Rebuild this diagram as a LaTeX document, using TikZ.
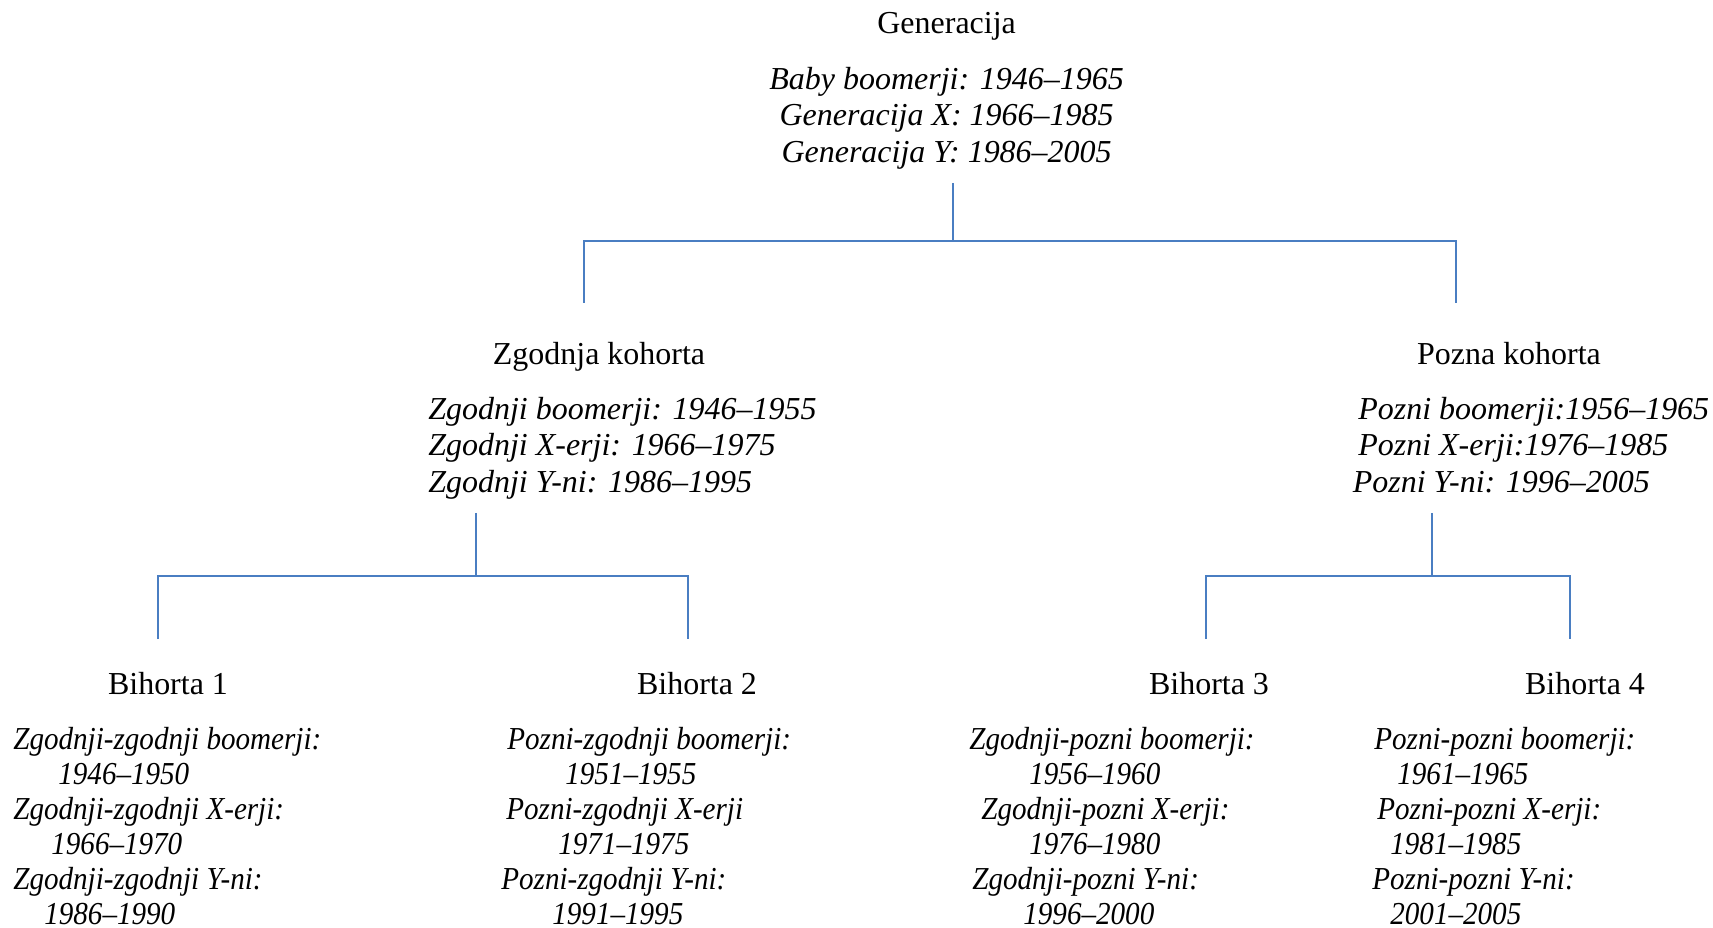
\documentclass[tikz,border=0pt]{standalone}
\usepackage{fontspec}
\setmainfont{Liberation Serif}
\newfontfamily\narrowserif[FakeStretch=0.91]{Liberation Serif}
\usepackage{tikz}
\usepackage{xcolor}
\usetikzlibrary{calc, positioning}

\definecolor{linkblue}{HTML}{4A7EC2}

\tikzset{
  link/.style={draw=linkblue, line width=1.3pt},
  head/.style={font=\fontsize{18.2}{21}\selectfont, inner sep=0pt, anchor=base},
  entry/.style={font=\fontsize{18.2}{21}\selectfont\itshape, inner sep=0pt, anchor=base west},
  subentry/.style={font=\narrowserif\fontsize{18.2}{21}\selectfont\itshape, inner sep=0pt, anchor=base west}
}

\begin{document}
\begin{tikzpicture}[x=0.02cm, y=-0.02cm]
        \useasboundingbox (0,0) rectangle (1713,928);

        % generacija
        \node[head] (gen) at (946.6,34) {Generacija};
        \foreach \t [count=\i] in {Baby boomerji: 1946–1965, Generacija X: 1966–1985, Generacija Y: 1986–2005}
            \node[entry, anchor=base] (gen-\i) at (946.6,{89.5+36.5*(\i-1)}) {\t};

        % kohorte
        \node[head] (zk) at (599,365) {Zgodnja kohorta};
        \node[head] (pk) at (1509,365) {Pozna kohorta};
        \foreach \t [count=\i] in {Zgodnji boomerji: 1946–1955, Zgodnji X-erji: 1966–1975, Zgodnji Y-ni: 1986–1995}
            \node[entry] (zk-\i) at (428,{419.5+36.5*(\i-1)}) {\t};
        \foreach \x/\t [count=\i] in {1358/Pozni boomerji:1956–1965, 1358/Pozni X-erji:1976–1985, 1352.5/Pozni Y-ni: 1996–2005}
            \node[entry] (pk-\i) at (\x,{419.5+36.5*(\i-1)}) {\t};

        % bihorte
        \node[head] (b1) at (168,694) {Bihorta 1};
        \node[head] (b2) at (697,694) {Bihorta 2};
        \node[head] (b3) at (1209,694) {Bihorta 3};
        \node[head] (b4) at (1585,694) {Bihorta 4};
        \foreach \x/\t [count=\i] in {13/Zgodnji-zgodnji boomerji:, 58/1946–1950, 13/Zgodnji-zgodnji X-erji:, 51/1966–1970, 13/Zgodnji-zgodnji Y-ni:, 44/1986–1990}
            \node[subentry] (b1-\i) at (\x,{749+35.1*(\i-1)}) {\t};
        \foreach \x/\t [count=\i] in {507/Pozni-zgodnji boomerji:, 565/1951–1955, 506/Pozni-zgodnji X-erji, 558/1971–1975, 501/Pozni-zgodnji Y-ni:, 552/1991–1995}
            \node[subentry] (b2-\i) at (\x,{749+35.1*(\i-1)}) {\t};
        \foreach \x/\t [count=\i] in {969/Zgodnji-pozni boomerji:, 1029/1956–1960, 981/Zgodnji-pozni X-erji:, 1029/1976–1980, 972/Zgodnji-pozni Y-ni:, 1023/1996–2000}
            \node[subentry] (b3-\i) at (\x,{749+35.1*(\i-1)}) {\t};
        \foreach \x/\t [count=\i] in {1374/Pozni-pozni boomerji:, 1397/1961–1965, 1377/Pozni-pozni X-erji:, 1390/1981–1985, 1372/Pozni-pozni Y-ni:, 1390/2001–2005}
            \node[subentry] (b4-\i) at (\x,{749+35.1*(\i-1)}) {\t};

        % povezave
        \coordinate (g-top) at (953,183);
        \coordinate (g-mid) at (953,241);
        \coordinate (zk-top) at (584,303);
        \coordinate (pk-top) at (1456,303);
        \draw[link] (g-top) -- (g-mid);
        \draw[link] (zk-top) |- (g-mid) -| (pk-top);

        \coordinate (zk-bot) at (476,513);
        \coordinate (zk-mid) at (476,576);
        \coordinate (b1-top) at (158,639);
        \coordinate (b2-top) at (688,639);
        \draw[link] (zk-bot) -- (zk-mid);
        \draw[link] (b1-top) |- (zk-mid) -| (b2-top);

        \coordinate (pk-bot) at (1432,513);
        \coordinate (pk-mid) at (1432,576);
        \coordinate (b3-top) at (1206,639);
        \coordinate (b4-top) at (1570,639);
        \draw[link] (pk-bot) -- (pk-mid);
        \draw[link] (b3-top) |- (pk-mid) -| (b4-top);
    \end{tikzpicture}
\end{document}
